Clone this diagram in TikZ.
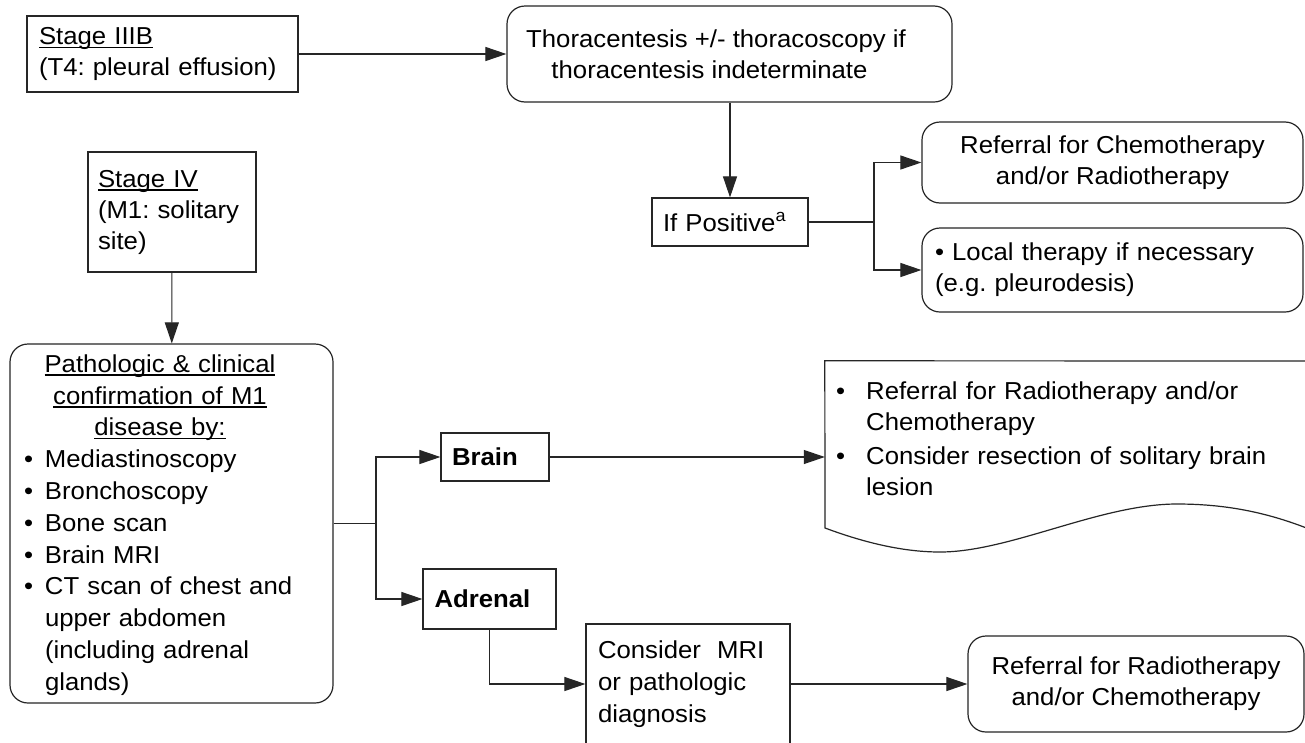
\documentclass[tikz,border=0pt]{standalone}
\usepackage{fontspec}
\setmainfont[FakeStretch=1.05]{Liberation Sans}
\usetikzlibrary{arrows.meta}
\frenchspacing
% underlined line of text
\newcommand\undl[1]{\leavevmode\setbox0\hbox{#1}\rlap{\rule[-3.5pt]{\wd0}{1.4pt}}\box0}
\newcommand\bulA{\makebox[21pt][l]{\textbullet}}
\newcommand\bulB{\makebox[30pt][l]{\textbullet}}
\begin{document}
\begin{tikzpicture}[x=1pt,y=-1pt,
  every node/.style={font=\fontsize{24.5}{31}\selectfont, inner sep=0pt},
  frame/.style={draw=black!85, line width=1.2pt},
  sq/.style 2 args={frame, minimum width=#1, minimum height=#2},
  rd/.style 2 args={frame, rounded corners=18pt, minimum width=#1, minimum height=#2},
  link/.style={line width=1.1pt, draw=black!85},
  arr/.style={link, -{Triangle[length=21pt,width=14pt]}}
]
\frenchspacing
\useasboundingbox (0,0) rectangle (1305,742);
\fill[white] (0,0) rectangle (1305,742);

% pleural effusion branch
\node[sq={271}{76}, text width=247, align=left] (s3b) at (162.5,54)
  {\undl{Stage IIIB}\\(T4: pleural effusion)};
\node[rd={445}{96}, align=center] (thor) at (729.5,54)
  {Thoracentesis +/- thoracoscopy if\hspace*{27pt}\\thoracentesis indeterminate\hspace*{40pt}};
\node[sq={156}{48}, text width=134, align=left] (ifpos) at (730,222)
  {If Positive\textsuperscript{a}};
\node[rd={381}{81}, align=center] (refchemo) at (1112.5,162.5)
  {Referral for Chemotherapy\\and/or Radiotherapy};
\node[rd={381}{84}, text width=355, align=left] (local) at (1112.5,270)
  {\textbullet\ Local therapy if necessary\\(e.g. pleurodesis)};
\coordinate (b1) at (874,222);

\draw[arr] (s3b) -- (thor);
\draw[arr] (thor.south -| ifpos.north) -- (ifpos.north);
\draw[link] (ifpos) -- (b1);
\draw[arr] (b1) |- (refchemo);
\draw[arr] (b1) |- (local);

% solitary metastasis branch
\node[sq={168}{120}, text width=148, align=left] (s4) at (172,212)
  {\undl{Stage IV}\\(M1: solitary\\site)};
\node[rd={323}{359}] (patho) at (171.5,523.5) {};
\node[text width=272, font=\fontsize{24.5}{31.8}\selectfont] (pathotext) at (160,525)
  {\centering\undl{Pathologic \& clinical}\\\undl{confirmation of M1}\\\undl{disease by:}\par
   \raggedright
   \bulA Mediastinoscopy\\
   \bulA Bronchoscopy\\
   \bulA Bone scan\\
   \bulA Brain MRI\\
   \bulA CT scan of chest and\\
   \hspace*{21pt}upper abdomen\\
   \hspace*{21pt}(including adrenal\\
   \hspace*{21pt}glands)\par};
\coordinate (b2) at (376,523.5);
\node[sq={108}{48}, text width=86, align=left] (brain) at (495,457) {\textbf{Brain}};
\node[sq={133}{60}, text width=110, align=left] (adrenal) at (489.5,599) {\textbf{Adrenal}};
\node[sq={204}{120}, text width=180, align=left, font=\fontsize{24.5}{32}\selectfont] (consider) at (688,684)
  {Consider\ \ MRI\\or pathologic\\diagnosis};
\node[rd={336}{96}, align=center] (final) at (1136,684)
  {Referral for Radiotherapy\\and/or Chemotherapy};

% document-shaped outcome with a wavy lower edge
\node[minimum width=520, minimum height=192] (doc) at (1085,457) {};
\draw[frame] (1345,361) -- (doc.north west) -- (825,528)
  .. controls (860,541) and (900,552) .. (940,552)
  .. controls (1010,552) and (1100,504) .. (1177,504)
  .. controls (1240,504) and (1290,518) .. (1345,545);
\node[anchor=north west, text width=465, align=left] (doctext) at (836,382)
  {\bulB Referral for Radiotherapy and/or\\
   \hspace*{30pt}Chemotherapy\\[3pt]
   \bulB Consider resection of solitary brain\\
   \hspace*{30pt}lesion};

\draw[arr] (s4) -- (patho);
\draw[link] (patho) -- (b2);
\draw[arr] (b2) |- (brain);
\draw[arr] (b2) |- (adrenal);
\draw[arr] (brain) -- (doc);
\draw[arr] (adrenal.south) |- (consider);
\draw[arr] (consider) -- (final);
\end{tikzpicture}
\end{document}
